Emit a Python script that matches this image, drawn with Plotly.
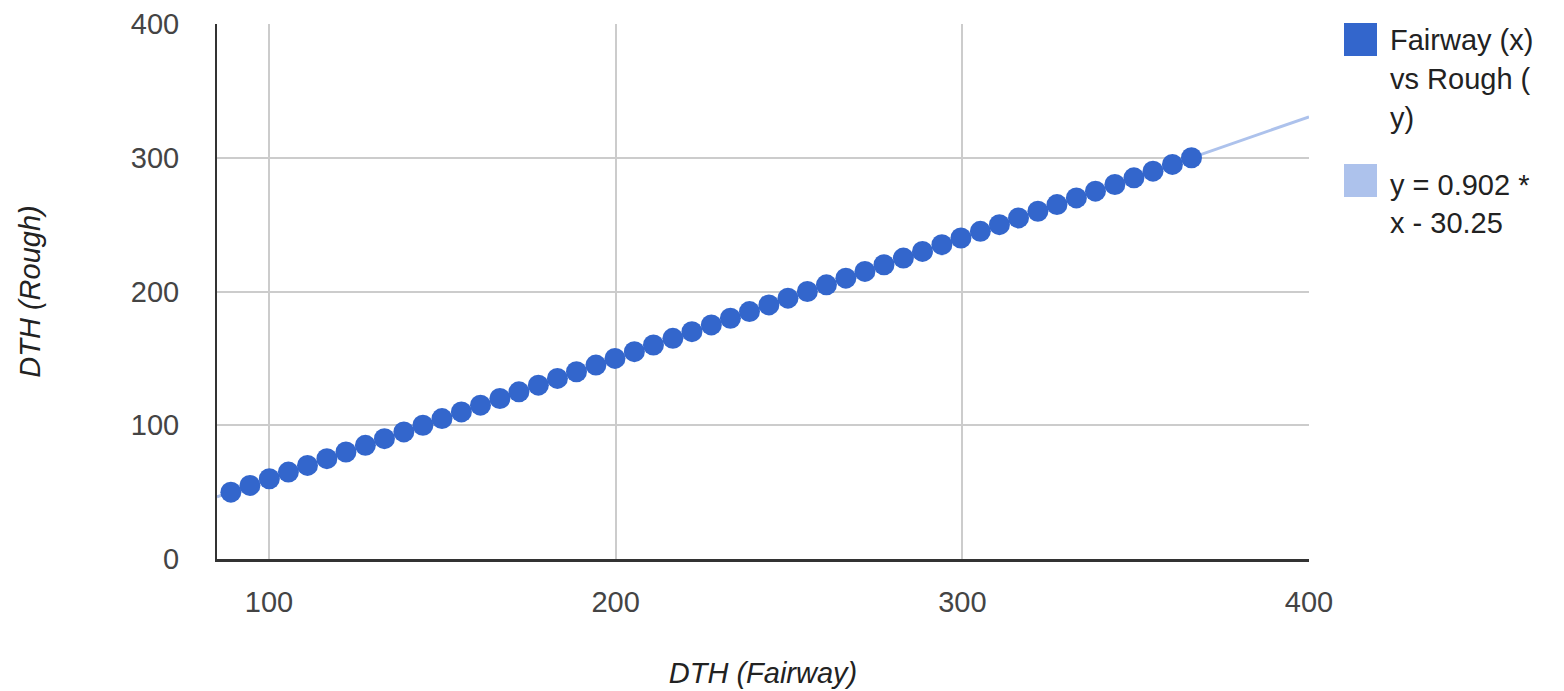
import plotly.graph_objects as go

# Data
fairway_x = [89.0, 94.5, 100.1, 105.6, 111.1, 116.7, 122.2, 127.8, 133.3, 138.9,
             144.4, 149.9, 155.5, 161.0, 166.6, 172.1, 177.7, 183.2, 188.7, 194.3,
             199.8, 205.4, 210.9, 216.5, 222.0, 227.6, 233.1, 238.6, 244.2, 249.7,
             255.3, 260.8, 266.4, 271.9, 277.4, 283.0, 288.5, 294.1, 299.6, 305.2,
             310.7, 316.2, 321.8, 327.3, 332.9, 338.4, 344.0, 349.5, 355.0, 360.6,
             366.1]
rough_y = [50, 55, 60, 65, 70, 75, 80, 85, 90, 95,
           100, 105, 110, 115, 120, 125, 130, 135, 140, 145,
           150, 155, 160, 165, 170, 175, 180, 185, 190, 195,
           200, 205, 210, 215, 220, 225, 230, 235, 240, 245,
           250, 255, 260, 265, 270, 275, 280, 285, 290, 295,
           300]
trend_slope = 0.902
trend_intercept = -30.25
x_range = [85, 400]
y_range = [0, 400]
x_ticks = [100, 200, 300, 400]
y_ticks = [0, 100, 200, 300, 400]
series_lines = ["Fairway (x)", "vs Rough (", "y)"]
trend_lines = ["y = 0.902 *", "x - 30.25"]

DARK = "#3366cc"
LIGHT = "#adc2ec"
FONT = "Liberation Sans, Arial, sans-serif"
FS = 29

trend_x = list(x_range)
trend_y = [trend_slope * v + trend_intercept for v in trend_x]

fig = go.Figure()
fig.add_trace(go.Scatter(x=trend_x, y=trend_y, mode="lines",
                         line=dict(color=LIGHT, width=3), showlegend=False,
                         hoverinfo="skip"))
fig.add_trace(go.Scatter(x=fairway_x, y=rough_y, mode="markers",
                         marker=dict(color=DARK, size=21, line=dict(width=0)),
                         showlegend=False))

PW, PH = 1092, 535
L, T = 217, 24
fig.update_layout(
    width=1564, height=691,
    margin=dict(l=L, r=1564 - L - PW, t=T, b=691 - T - PH),
    paper_bgcolor="white", plot_bgcolor="white",
    font=dict(family=FONT, size=FS, color="#444"),
    showlegend=False,
)
fig.update_xaxes(range=x_range, tickvals=x_ticks, showgrid=True, gridcolor="#cccccc",
                 gridwidth=2, zeroline=False, showline=True, linecolor="#333333",
                 linewidth=3, ticks="", ticklabelstandoff=15, ticklabeloverflow="allow",
                 automargin=False,
                 tickfont=dict(size=FS, color="#444"),
                 title=dict(text="<i>DTH (Fairway)</i>", standoff=46,
                            font=dict(size=FS, color="#222")))
fig.update_yaxes(range=y_range, tickvals=y_ticks, showgrid=True, gridcolor="#cccccc",
                 gridwidth=2, zeroline=False, showline=True, linecolor="#333333",
                 linewidth=2, ticks="", ticklabelstandoff=30, ticklabeloverflow="allow",
                 automargin=False,
                 tickfont=dict(size=FS, color="#444"),
                 title=dict(text="<i>DTH (Rough)</i>", standoff=82,
                            font=dict(size=FS, color="#222")))

# Custom legend (swatches + labels), positions in reference pixel space
def px_x(px):
    return (px - L) / PW

def px_y(py):
    return (T + PH - py) / PH

legend_items = [(DARK, series_lines, 23, [40, 79, 118]),
                (LIGHT, trend_lines, 164, [185, 223])]
for color, lines, top, centers in legend_items:
    fig.add_shape(type="rect", xref="paper", yref="paper",
                  x0=px_x(1344), x1=px_x(1377),
                  y0=px_y(top), y1=px_y(top + 33),
                  fillcolor=color, line=dict(width=0))
    for txt, cy in zip(lines, centers):
        fig.add_annotation(xref="paper", yref="paper", x=px_x(1388),
                           y=px_y(cy), xanchor="left", yanchor="middle",
                           text=txt, showarrow=False, align="left",
                           font=dict(size=FS, color="#222"))

fig.write_html("out.html",
               config={"displayModeBar": False},
               post_script="document.body.style.margin='0';")
